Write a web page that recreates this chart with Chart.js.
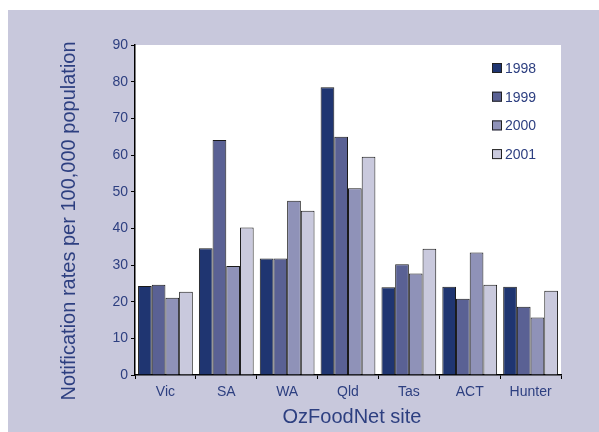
<!DOCTYPE html>
<html lang="en">
<head>
  <meta charset="UTF-8" />
  <title>OzFoodNet notification rates</title>
  <script src="https://cdn.jsdelivr.net/npm/chart.js"></script>
  <style>
    html, body { margin: 0; background: #c8c8dc; overflow: hidden; }
    .wrap { width: 599px; height: 432px; }
  </style>
</head>
<body>
  <div class="wrap"><canvas id="barChart"></canvas></div>

  <script>
    // data
    const sites = ['Vic', 'SA', 'WA', 'Qld', 'Tas', 'ACT', 'Hunter'];
    const years = ['1998', '1999', '2000', '2001'];
    const rates1998 = [24.3, 34.6, 31.8, 78.5, 23.9, 24.1, 24.1];
    const rates1999 = [24.6, 64.1, 31.8, 65.0, 30.2, 20.8, 18.6];
    const rates2000 = [21.1, 29.7, 47.5, 50.9, 27.7, 33.4, 15.7];
    const rates2001 = [22.7, 40.2, 44.8, 59.5, 34.4, 24.6, 23.0];
    const yTicks = [0, 10, 20, 30, 40, 50, 60, 70, 80, 90];

    const barColors = ['#1f3571', '#5a6194', '#8f92b8', '#c9c9dd'];
    const navy = '#2d3f80';
    const font = '"Liberation Sans", Arial, sans-serif';

    // lavender panel + white plot area + axis titles
    const backdrop = {
      id: 'backdrop',
      beforeDraw(chart) {
        const { ctx, chartArea: a } = chart;
        ctx.save();
        ctx.fillStyle = '#ffffff';
        ctx.fillRect(0, 0, chart.width, chart.height);
        ctx.fillStyle = '#c8c8dc';
        ctx.fillRect(8, 10, chart.width - 8, chart.height - 10);
        ctx.fillStyle = '#ffffff';
        ctx.fillRect(a.left, a.top, a.right - a.left, a.bottom - a.top);
        ctx.restore();
      },
      afterDraw(chart) {
        const ctx = chart.ctx;
        ctx.save();
        ctx.fillStyle = navy;
        ctx.font = '20px ' + font;
        ctx.textAlign = 'center';
        ctx.textBaseline = 'middle';
        ctx.translate(69, 221);
        ctx.rotate(-Math.PI / 2);
        ctx.fillText('Notification rates per 100,000 population', 0, 0);
        ctx.restore();

        ctx.save();
        ctx.fillStyle = navy;
        ctx.font = '20px ' + font;
        ctx.textAlign = 'center';
        ctx.textBaseline = 'middle';
        ctx.fillText('OzFoodNet site', 352, 417);
        ctx.restore();
      }
    };

    // legend drawn inside the plot, top right
    const boxLegend = {
      id: 'boxLegend',
      afterDatasetsDraw(chart) {
        const ctx = chart.ctx;
        ctx.save();
        ctx.font = '14px ' + font;
        ctx.textBaseline = 'middle';
        chart.data.datasets.forEach((ds, i) => {
          const y = 68 + i * 28.7;
          ctx.fillStyle = ds.backgroundColor;
          ctx.fillRect(492, y - 5, 10, 10);
          ctx.strokeStyle = '#222';
          ctx.lineWidth = 1;
          ctx.strokeRect(492.5, y - 4.5, 9, 9);
          ctx.fillStyle = navy;
          ctx.fillText(ds.label, 505, y + 1);
        });
        ctx.restore();
      }
    };

    const seriesValues = [rates1998, rates1999, rates2000, rates2001];

    new Chart(document.getElementById('barChart'), {
      type: 'bar',
      data: {
        labels: sites,
        datasets: years.map((yr, i) => ({
          label: yr,
          data: seriesValues[i],
          backgroundColor: barColors[i],
          borderColor: '#1a1a1a',
          borderWidth: 1,
          categoryPercentage: 0.9,
          barPercentage: 1.0
        }))
      },
      options: {
        responsive: true,
        maintainAspectRatio: false,
        animation: false,
        layout: { padding: { top: 45, right: 38, left: 0, bottom: 0 } },
        plugins: {
          legend: { display: false },
          tooltip: { enabled: false }
        },
        scales: {
          x: {
            afterFit(s) { s.height = 57; },
            grid: {
              offset: true,
              drawOnChartArea: false,
              tickLength: 4,
              color: '#000'
            },
            border: { color: '#000', width: 1.5 },
            ticks: { color: navy, font: { family: font, size: 14 }, padding: 5 }
          },
          y: {
            min: 0,
            max: 90,
            afterFit(s) { s.width = 135; },
            afterBuildTicks(s) { s.ticks = yTicks.map(v => ({ value: v })); },
            grid: {
              drawOnChartArea: false,
              tickLength: 4,
              color: '#000'
            },
            border: { color: '#000', width: 1.5 },
            ticks: { color: navy, font: { family: font, size: 14 }, padding: 3 }
          }
        }
      },
      plugins: [backdrop, boxLegend]
    });
  </script>
</body>
</html>
